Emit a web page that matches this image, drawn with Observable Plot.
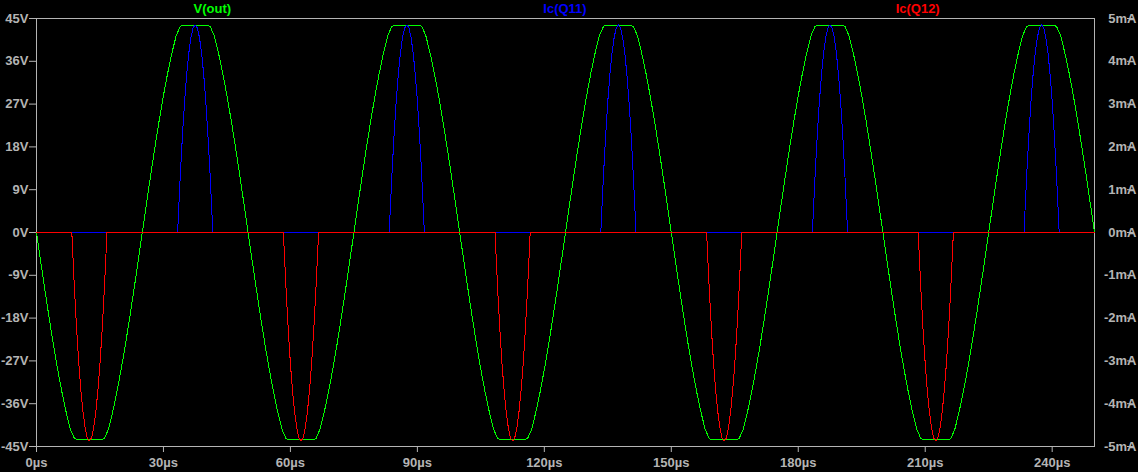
<!DOCTYPE html>
<html><head><meta charset="utf-8">
<script src="https://cdn.jsdelivr.net/npm/d3@7"></script>
<script src="https://cdn.jsdelivr.net/npm/@observablehq/plot@0.6"></script>
<style>
html,body{margin:0;padding:0;background:#000;}
#chart{width:1138px;height:472px;}
</style></head><body><div id="chart"></div>
<script>
const timeTicksUs = [0, 30, 60, 90, 120, 150, 180, 210, 240];
const voltTicks = [-45, -36, -27, -18, -9, 0, 9, 18, 27, 36, 45];
const mATicks = [-5, -4, -3, -2, -1, 0, 1, 2, 3, 4, 5];
const seriesNames = ["V(out)", "Ic(Q11)", "Ic(Q12)"];
const seriesColors = ["#00ff00", "#0000ff", "#ff0000"];

// V(out) in volts, one reading per microsecond from 0 to 250 µs
const vOutStepUs = 1;
const vOutV = [
0, -6.14, -12.19, -18.04, -23.61, -28.8, -33.54, -37.75, -41.37, -43.4, -43.5, -43.5, -43.5, -43.5, -43.5, -43.5, -43.4, -41.37, -37.75, -33.54, -28.8, -23.61, -18.04, -12.19, -6.14,
0, 6.14, 12.19, 18.04, 23.61, 28.8, 33.54, 37.75, 41.37, 43.4, 43.5, 43.5, 43.5, 43.5, 43.5, 43.5, 43.4, 41.37, 37.75, 33.54, 28.8, 23.61, 18.04, 12.19, 6.14,
0, -6.14, -12.19, -18.04, -23.61, -28.8, -33.54, -37.75, -41.37, -43.4, -43.5, -43.5, -43.5, -43.5, -43.5, -43.5, -43.4, -41.37, -37.75, -33.54, -28.8, -23.61, -18.04, -12.19, -6.14,
0, 6.14, 12.19, 18.04, 23.61, 28.8, 33.54, 37.75, 41.37, 43.4, 43.5, 43.5, 43.5, 43.5, 43.5, 43.5, 43.4, 41.37, 37.75, 33.54, 28.8, 23.61, 18.04, 12.19, 6.14,
0, -6.14, -12.19, -18.04, -23.61, -28.8, -33.54, -37.75, -41.37, -43.4, -43.5, -43.5, -43.5, -43.5, -43.5, -43.5, -43.4, -41.37, -37.75, -33.54, -28.8, -23.61, -18.04, -12.19, -6.14,
0, 6.14, 12.19, 18.04, 23.61, 28.8, 33.54, 37.75, 41.37, 43.4, 43.5, 43.5, 43.5, 43.5, 43.5, 43.5, 43.4, 41.37, 37.75, 33.54, 28.8, 23.61, 18.04, 12.19, 6.14,
0, -6.14, -12.19, -18.04, -23.61, -28.8, -33.54, -37.75, -41.37, -43.4, -43.5, -43.5, -43.5, -43.5, -43.5, -43.5, -43.4, -41.37, -37.75, -33.54, -28.8, -23.61, -18.04, -12.19, -6.14,
0, 6.14, 12.19, 18.04, 23.61, 28.8, 33.54, 37.75, 41.37, 43.4, 43.5, 43.5, 43.5, 43.5, 43.5, 43.5, 43.4, 41.37, 37.75, 33.54, 28.8, 23.61, 18.04, 12.19, 6.14,
0, -6.14, -12.19, -18.04, -23.61, -28.8, -33.54, -37.75, -41.37, -43.4, -43.5, -43.5, -43.5, -43.5, -43.5, -43.5, -43.4, -41.37, -37.75, -33.54, -28.8, -23.61, -18.04, -12.19, -6.14,
0, 6.14, 12.19, 18.04, 23.61, 28.8, 33.54, 37.75, 41.37, 43.4, 43.5, 43.5, 43.5, 43.5, 43.5, 43.5, 43.4, 41.37, 37.75, 33.54, 28.8, 23.61, 18.04, 12.19, 6.14,
0
];

// Ic(Q11) in mA (right axis)
const icQ11TimeUs = [0,
33.35, 33.5, 34, 34.5, 35, 35.5, 36, 36.5, 37, 37.5, 38, 38.5, 39, 39.5, 40, 40.5, 41, 41.5, 41.65,
83.35, 83.5, 84, 84.5, 85, 85.5, 86, 86.5, 87, 87.5, 88, 88.5, 89, 89.5, 90, 90.5, 91, 91.5, 91.65,
133.35, 133.5, 134, 134.5, 135, 135.5, 136, 136.5, 137, 137.5, 138, 138.5, 139, 139.5, 140, 140.5, 141, 141.5, 141.65,
183.35, 183.5, 184, 184.5, 185, 185.5, 186, 186.5, 187, 187.5, 188, 188.5, 189, 189.5, 190, 190.5, 191, 191.5, 191.65,
233.35, 233.5, 234, 234.5, 235, 235.5, 236, 236.5, 237, 237.5, 238, 238.5, 239, 239.5, 240, 240.5, 241, 241.5, 241.65,
250];
const icQ11mA = [0,
0, 0.34, 1.38, 2.29, 3.07, 3.7, 4.2, 4.56, 4.78, 4.85, 4.78, 4.56, 4.2, 3.7, 3.07, 2.29, 1.38, 0.34, 0,
0, 0.34, 1.38, 2.29, 3.07, 3.7, 4.2, 4.56, 4.78, 4.85, 4.78, 4.56, 4.2, 3.7, 3.07, 2.29, 1.38, 0.34, 0,
0, 0.34, 1.38, 2.29, 3.07, 3.7, 4.2, 4.56, 4.78, 4.85, 4.78, 4.56, 4.2, 3.7, 3.07, 2.29, 1.38, 0.34, 0,
0, 0.34, 1.38, 2.29, 3.07, 3.7, 4.2, 4.56, 4.78, 4.85, 4.78, 4.56, 4.2, 3.7, 3.07, 2.29, 1.38, 0.34, 0,
0, 0.34, 1.38, 2.29, 3.07, 3.7, 4.2, 4.56, 4.78, 4.85, 4.78, 4.56, 4.2, 3.7, 3.07, 2.29, 1.38, 0.34, 0,
0];

// Ic(Q12) in mA (right axis)
const icQ12TimeUs = [0,
8.35, 8.5, 9, 9.5, 10, 10.5, 11, 11.5, 12, 12.5, 13, 13.5, 14, 14.5, 15, 15.5, 16, 16.5, 16.65,
58.35, 58.5, 59, 59.5, 60, 60.5, 61, 61.5, 62, 62.5, 63, 63.5, 64, 64.5, 65, 65.5, 66, 66.5, 66.65,
108.35, 108.5, 109, 109.5, 110, 110.5, 111, 111.5, 112, 112.5, 113, 113.5, 114, 114.5, 115, 115.5, 116, 116.5, 116.65,
158.35, 158.5, 159, 159.5, 160, 160.5, 161, 161.5, 162, 162.5, 163, 163.5, 164, 164.5, 165, 165.5, 166, 166.5, 166.65,
208.35, 208.5, 209, 209.5, 210, 210.5, 211, 211.5, 212, 212.5, 213, 213.5, 214, 214.5, 215, 215.5, 216, 216.5, 216.65,
250];
const icQ12mA = [0,
0, -0.34, -1.38, -2.29, -3.07, -3.7, -4.2, -4.57, -4.8, -4.87, -4.8, -4.57, -4.2, -3.7, -3.07, -2.29, -1.38, -0.34, 0,
0, -0.34, -1.38, -2.29, -3.07, -3.7, -4.2, -4.57, -4.8, -4.87, -4.8, -4.57, -4.2, -3.7, -3.07, -2.29, -1.38, -0.34, 0,
0, -0.34, -1.38, -2.29, -3.07, -3.7, -4.2, -4.57, -4.8, -4.87, -4.8, -4.57, -4.2, -3.7, -3.07, -2.29, -1.38, -0.34, 0,
0, -0.34, -1.38, -2.29, -3.07, -3.7, -4.2, -4.57, -4.8, -4.87, -4.8, -4.57, -4.2, -3.7, -3.07, -2.29, -1.38, -0.34, 0,
0, -0.34, -1.38, -2.29, -3.07, -3.7, -4.2, -4.57, -4.8, -4.87, -4.8, -4.57, -4.2, -3.7, -3.07, -2.29, -1.38, -0.34, 0,
0];

// secondary axis mapping: 45 V full scale <-> 5 mA full scale
const vPerMA = 9;
const vRows = vOutV.map((v, i) => ({t: i * vOutStepUs, y: v}));
const q11Rows = icQ11TimeUs.map((t, i) => ({t, y: icQ11mA[i] * vPerMA}));
const q12Rows = icQ12TimeUs.map((t, i) => ({t, y: icQ12mA[i] * vPerMA}));

const gray = "#b4b4b4";
const plot = Plot.plot({
  width: 1138, height: 472,
  marginLeft: 36, marginRight: 44, marginTop: 18, marginBottom: 26,
  style: {background: "#000", color: gray, fontFamily: "'Liberation Sans', Arial, sans-serif", fontSize: "13px", fontWeight: "bold"},
  x: {domain: [0, 250]},
  y: {domain: [-45, 45]},
  marks: [
    Plot.frame({stroke: gray}),
    Plot.axisX(timeTicksUs, {tickSize: 6, tickPadding: 5, tickFormat: d => `${d}µs`, label: null}),
    Plot.axisY(voltTicks, {anchor: "left", tickSize: 7, tickPadding: 1, tickFormat: d => `${d}V`, label: null}),
    Plot.axisY(mATicks.map(m => m * vPerMA), {anchor: "right", tickSize: 7, tickPadding: 3, textAnchor: "end", dx: 32, tickFormat: d => `${Math.round(d / vPerMA)}mA`, label: null}),
    Plot.line(vRows, {x: "t", y: "y", stroke: seriesColors[0], strokeWidth: 1, shapeRendering: "crispEdges"}),
    Plot.line(q11Rows, {x: "t", y: "y", stroke: seriesColors[1], strokeWidth: 1, shapeRendering: "crispEdges"}),
    Plot.line(q12Rows, {x: "t", y: "y", stroke: seriesColors[2], strokeWidth: 1, shapeRendering: "crispEdges"})
  ]
});

const xr = plot.scale("x").range;
const svg = d3.select(plot);
seriesNames.forEach((name, i) => {
  svg.append("text")
    .attr("x", xr[0] + (xr[1] - xr[0]) * (i + 0.5) / 3)
    .attr("y", 13)
    .attr("text-anchor", "middle")
    .attr("fill", seriesColors[i])
    .attr("font-size", 13)
    .attr("font-weight", "bold")
    .text(name);
});
document.getElementById("chart").appendChild(plot);
</script>
</body></html>
